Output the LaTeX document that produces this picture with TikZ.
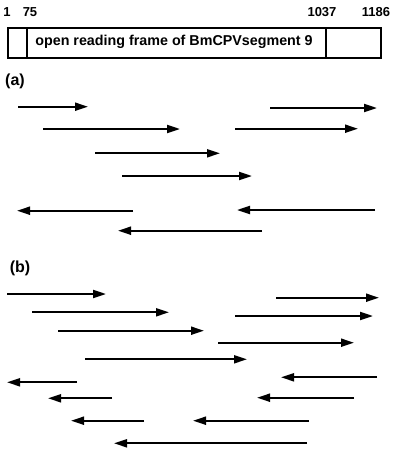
\documentclass[tikz,border=0pt]{standalone}
\usepackage{fontspec}
\setmainfont{Liberation Sans}
\usetikzlibrary{arrows.meta}
\begin{document}
\begin{tikzpicture}[x=1pt,y=-1pt,
  frag/.style={line width=2pt,-{Triangle[length=13pt,width=8pt]}},
  lbl/.style={font=\bfseries\fontsize{13}{15}\selectfont,inner sep=0pt},
  orfl/.style={font=\bfseries\fontsize{14.3}{16}\selectfont,inner sep=0pt},
  panel/.style={font=\bfseries\fontsize{16}{18}\selectfont,inner sep=0pt}]
\useasboundingbox (0,0) rectangle (400,453);
% genome box
\node[draw,line width=1.8pt,minimum width=373pt,minimum height=30pt,inner sep=0pt,anchor=north west] (box) at (7,27) {};
\draw[line width=1.8pt] (27,27) -- (27,57);
\draw[line width=1.8pt] (326,27) -- (326,57);
\node[orfl] (orf) at (174,42) {open reading frame of BmCPVsegment 9};
\node[lbl] (n1) at (7,12) {1};
\node[lbl] (n75) at (30,12) {75};
\node[lbl] (n1037) at (322,12) {1037};
\node[lbl] (n1186) at (376,12) {1186};
% panel labels
\node[panel] (pa) at (15,81) {(a)};
\node[panel] (pb) at (20,268) {(b)};
% panel (a) arrows
\foreach \i/\xa/\xb/\yy in {
  1/18/88/106.7, 2/270/377/108, 3/43/180/129, 4/235/358/128.7,
  5/95/220/153.3, 6/122/252/176, 7/133/17/210.7, 8/375/237/210,
  9/262/118/230.7}{
  \coordinate (as\i) at (\xa,\yy);
  \coordinate (ae\i) at (\xb,\yy);
  \draw[frag] (as\i) -- (ae\i);
}
% panel (b) arrows
\foreach \i/\xa/\xb/\yy in {
  1/7/106/294, 2/276/379/297.7, 3/32/169/312.3, 4/235/373/316,
  5/58/204/330.7, 6/218/354/342.7, 7/85/247/359.3, 8/377/281/377.3,
  9/77/7/382.3, 10/354/257/397.7, 11/112/48/398.3, 12/144/71/420.7,
  13/309/193/420.7, 14/307/114/443.3}{
  \coordinate (bs\i) at (\xa,\yy);
  \coordinate (be\i) at (\xb,\yy);
  \draw[frag] (bs\i) -- (be\i);
}
\end{tikzpicture}
\end{document}
